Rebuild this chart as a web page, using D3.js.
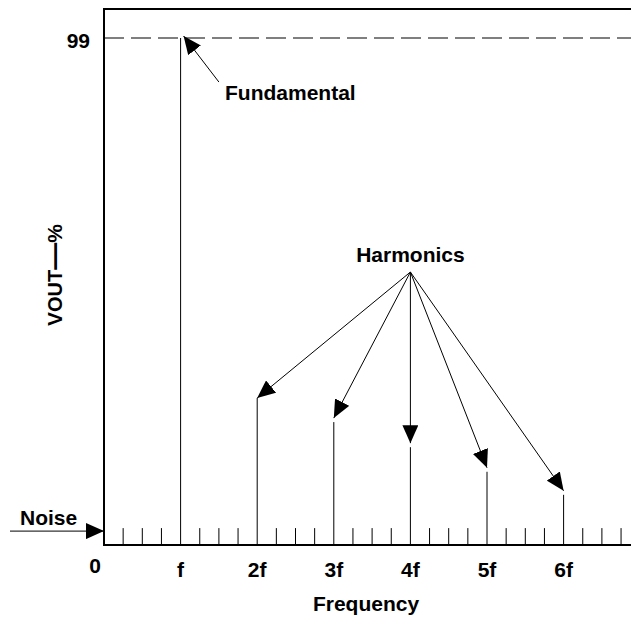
<!DOCTYPE html>
<html>
<head>
<title>Harmonics</title>
<script src="https://d3js.org/d3.v7.min.js"></script>
<style>
  body { margin: 0; background: #fff; }
  text { font-family: "Liberation Sans", Arial, sans-serif; font-weight: bold; fill: #000; }
</style>
</head>
<body>
<div id="my_dataviz"></div>
<script>
// harmonic number (multiples of f) and spike height in %
var harmonics = [1, 2, 3, 4, 5, 6];
var levels = [99, 28.7, 24.0, 19.1, 14.3, 9.8];
var tickLabels = ["f", "2f", "3f", "4f", "5f", "6f"];
var noiseLevel = 3.3;
// noise ticks every quarter of f
var noiseSteps = d3.range(1, 28).map(function(i) { return i / 4; });

var width = 631, height = 617;
var x0 = 104, yBase = 545, yTop = 9;
var fs = "21px";

var svg = d3.select("#my_dataviz")
  .append("svg")
    .attr("width", width)
    .attr("height", height);

var x = d3.scaleLinear().domain([0, 7]).range([x0, x0 + 7 * 76.6]);
var y = d3.scaleLinear().domain([0, 99]).range([yBase, 38]);

// arrow head
svg.append("defs").append("marker")
    .attr("id", "head")
    .attr("markerUnits", "userSpaceOnUse")
    .attr("viewBox", "0 -8 18 16")
    .attr("refX", 18).attr("refY", 0)
    .attr("markerWidth", 18).attr("markerHeight", 16)
    .attr("orient", "auto")
  .append("path")
    .attr("d", "M0,-8L18,0L0,8Z")
    .attr("fill", "#000");

// dashed 99% line
svg.append("line")
    .attr("x1", x0).attr("x2", width)
    .attr("y1", y(99)).attr("y2", y(99))
    .attr("stroke", "#000").attr("stroke-width", 1.2)
    .attr("stroke-dasharray", "20,7");

// noise ticks (skip the harmonic positions)
svg.selectAll(".noise")
  .data(noiseSteps.filter(function(d) { return harmonics.indexOf(d) < 0; }))
  .enter().append("line")
    .attr("x1", function(d) { return x(d); })
    .attr("x2", function(d) { return x(d); })
    .attr("y1", y(0)).attr("y2", y(noiseLevel))
    .attr("stroke", "#000").attr("stroke-width", 1);

// spikes
svg.selectAll(".spike")
  .data(harmonics)
  .enter().append("line")
    .attr("x1", function(d) { return x(d); })
    .attr("x2", function(d) { return x(d); })
    .attr("y1", y(0))
    .attr("y2", function(d, i) { return y(levels[i]); })
    .attr("stroke", "#000").attr("stroke-width", 1);

// frame: top, left, bottom
svg.append("path")
    .attr("d", "M" + width + "," + yTop + "H" + x0 + "V" + yBase + "H" + width)
    .attr("fill", "none").attr("stroke", "#000").attr("stroke-width", 2);

// harmonics arrows from a common point
var src = [4, 53.3];
svg.selectAll(".harm")
  .data(harmonics.slice(1))
  .enter().append("line")
    .attr("x1", x(src[0])).attr("y1", y(src[1]))
    .attr("x2", function(d) { return x(d); })
    .attr("y2", function(d, i) { return y(levels[i + 1]) - (i == 0 ? 0 : 4); })
    .attr("stroke", "#000").attr("stroke-width", 1)
    .attr("marker-end", "url(#head)");

// fundamental arrow
svg.append("line")
    .attr("x1", x(1.5)).attr("y1", y(90.4))
    .attr("x2", x(1) + 3).attr("y2", y(99) - 2)
    .attr("stroke", "#000").attr("stroke-width", 1)
    .attr("marker-end", "url(#head)");

// noise arrow
svg.append("line")
    .attr("x1", 10).attr("y1", y(noiseLevel) + 3)
    .attr("x2", x0).attr("y2", y(noiseLevel) + 3)
    .attr("stroke", "#000").attr("stroke-width", 1)
    .attr("marker-end", "url(#head)");

// labels
svg.append("text").attr("x", 225).attr("y", 100).style("font-size", fs).text("Fundamental");
svg.append("text").attr("x", x(4)).attr("y", 262).attr("text-anchor", "middle").style("font-size", fs).text("Harmonics");
svg.append("text").attr("x", 20).attr("y", 525).style("font-size", fs).text("Noise");
svg.append("text").attr("x", 90).attr("y", 48).attr("text-anchor", "end").style("font-size", fs).text("99");
svg.append("text").attr("x", 95).attr("y", 573).attr("text-anchor", "middle").style("font-size", fs).text("0");

svg.selectAll(".xlab")
  .data(tickLabels)
  .enter().append("text")
    .attr("x", function(d, i) { return x(harmonics[i]); })
    .attr("y", 577)
    .attr("text-anchor", "middle")
    .style("font-size", fs)
    .text(function(d) { return d; });

svg.append("text").attr("x", 366).attr("y", 611).attr("text-anchor", "middle").style("font-size", fs).text("Frequency");

// y label V_OUT — %
var yl = svg.append("text")
    .attr("transform", "translate(62,275) rotate(-90)")
    .attr("text-anchor", "middle")
    .style("font-size", fs);
yl.append("tspan").text("V");
yl.append("tspan").style("font-size", "20px").text("OUT");
yl.append("tspan").style("font-size", "27px").attr("dy", 1).text("—");
yl.append("tspan").attr("dy", -1).text("%");
</script>
</body>
</html>
